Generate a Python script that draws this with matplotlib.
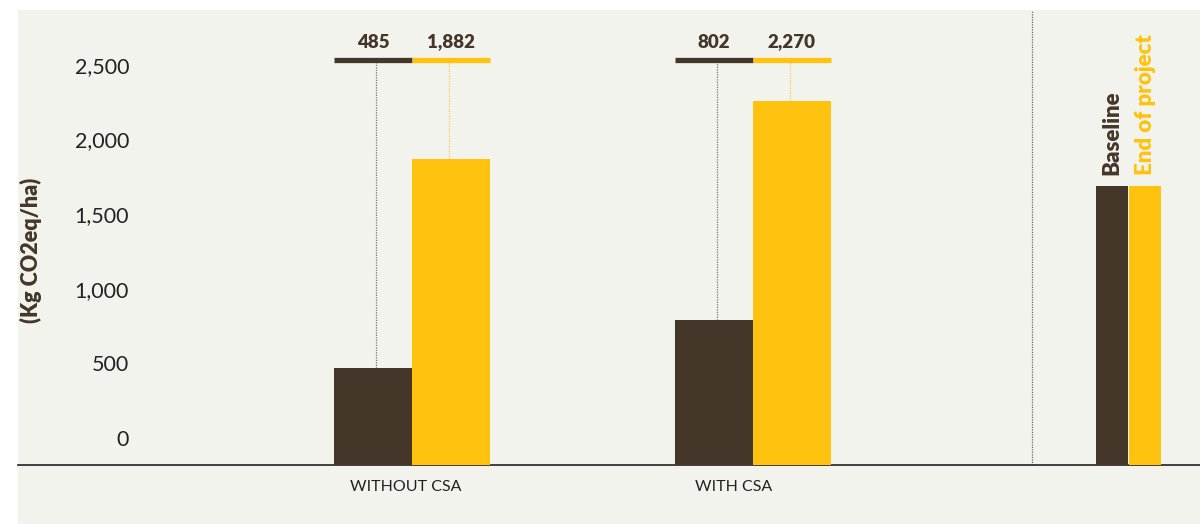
import matplotlib
matplotlib.use("Agg")
import matplotlib.pyplot as plt
from matplotlib.patches import Rectangle

# ---- data ----
categories = ["WITHOUT CSA", "WITH CSA"]
baseline = [485, 802]
end_of_project = [1882, 2270]
value_labels_base = ["485", "802"]
value_labels_end = ["1,882", "2,270"]
yticks = [0, 500, 1000, 1500, 2000, 2500]
ytick_labels = ["0", "500", "1,000", "1,500", "2,000", "2,500"]
series_names = ["Baseline", "End of project"]

# ---- style ----
DARK = "#45362a"
YELLOW = "#ffc20e"
BG = "#f3f3ee"
FONT = ["Lato", "DejaVu Sans"]

fig = plt.figure(figsize=(12, 5.24), dpi=100)
fig.patch.set_facecolor("white")
ax = fig.add_axes([18 / 1200, (524 - 465) / 524, 1 - 18 / 1200, (465 - 10) / 524])
ax.set_facecolor(BG)
fig.patches.append(Rectangle((18 / 1200, 0), 1, (524 - 465) / 524,
                             transform=fig.transFigure, color=BG, zorder=-1))

YMIN, YMAX = -168, 2882
ax.set_xlim(18, 1200)
ax.set_ylim(YMIN, YMAX)
for s in ["top", "right", "left"]:
    ax.spines[s].set_visible(False)
ax.spines["bottom"].set_color("#333333")
ax.spines["bottom"].set_linewidth(1.3)
ax.set_xticks([])
ax.set_yticks([])

group_centers = [412, 753]
bw = 78
line_y = 2547
num_y = 2667

for i, c in enumerate(group_centers):
    xb = c - bw / 2
    xe = c + bw / 2
    ax.bar(xb, baseline[i] - YMIN, bottom=YMIN, width=bw, color=DARK, zorder=3)
    ax.bar(xe, end_of_project[i] - YMIN, bottom=YMIN, width=bw, color=YELLOW, zorder=3)
    # top indicator line
    ax.plot([c - bw, c], [line_y, line_y], color=DARK, lw=3.8, solid_capstyle="butt", zorder=4)
    ax.plot([c, c + bw], [line_y, line_y], color=YELLOW, lw=3.8, solid_capstyle="butt", zorder=4)
    # dotted connectors
    ax.plot([xb + 3, xb + 3], [baseline[i], line_y], color="#777777", lw=0.9,
            ls=(0, (1, 1)), zorder=2)
    ax.plot([xe - 2, xe - 2], [end_of_project[i], line_y], color="#f7c64a", lw=0.9,
            ls=(0, (1, 1)), zorder=2)
    ax.text(xb, num_y, value_labels_base[i], ha="center", va="center", color=DARK,
            fontsize=13.5, fontweight="heavy", family=FONT)
    ax.text(xe, num_y, value_labels_end[i], ha="center", va="center", color=DARK,
            fontsize=13.5, fontweight="heavy", family=FONT)

# category labels
label_x = [406, 734]
for x, name in zip(label_x, categories):
    ax.text(x, YMIN - 150, name, ha="center", va="center", color="#222222",
            fontsize=11.5, family=FONT, clip_on=False)

# y tick labels
for v, t in zip(yticks, ytick_labels):
    ax.text(129, v, t, ha="right", va="center", color="#222222", fontsize=15.5,
            family=FONT)

ax.text(31, 1270, "(Kg CO2eq/ha)", rotation=90, ha="center", va="center",
        color=DARK, fontsize=15.5, fontweight="heavy", family=FONT)

# divider
ax.plot([1032, 1032], [YMIN, YMAX], color="#666666", lw=0.9, ls=(0, (1, 1)), zorder=2)

# legend swatches
leg_top = 1702
ax.bar(1112, leg_top - YMIN, bottom=YMIN, width=32, color=DARK, zorder=3)
ax.bar(1145, leg_top - YMIN, bottom=YMIN, width=32, color=YELLOW, zorder=3)
ax.text(1112, 1776, series_names[0], rotation=90, ha="center", va="bottom",
        color=DARK, fontsize=16, fontweight="heavy", family=FONT)
ax.text(1145, 1776, series_names[1], rotation=90, ha="center", va="bottom",
        color=YELLOW, fontsize=16, fontweight="heavy", family=FONT)

fig.savefig("out.png", dpi=100, facecolor="white")
